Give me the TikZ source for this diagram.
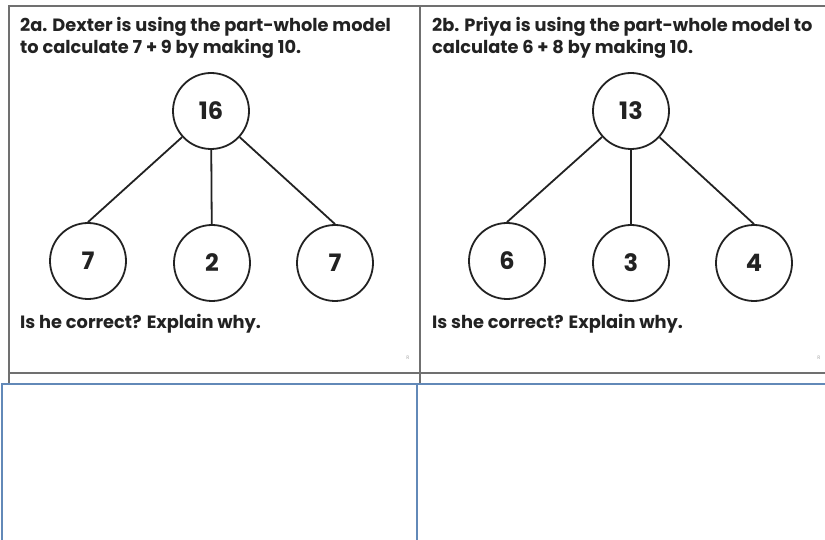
\documentclass[tikz,border=0pt]{standalone}
\usepackage{fontspec}
\setmainfont{Poppins}
\definecolor{boxgray}{RGB}{112,112,112}
\definecolor{answerblue}{RGB}{98,137,184}
\definecolor{ink}{RGB}{34,34,34}
\begin{document}
\begin{tikzpicture}[x=1pt,y=-1pt,
		num/.style={circle,draw=ink,line width=1.8pt,minimum size=76pt,inner sep=0pt,
			font=\fontsize{24}{24}\selectfont\bfseries,text=ink},
		task/.style={anchor=north west,align=left,inner sep=0pt,
			font=\fontsize{17.8}{16.5}\selectfont\bfseries,text=ink},
		tinytag/.style={font=\fontsize{5}{5}\selectfont,text=black!35,inner sep=0pt}]
	\useasboundingbox (0,0) rectangle (825,540);
	% frame of the two questions
	\draw[boxgray,line width=2pt] (8,6)--(825,6) (8,373)--(825,373);
	\draw[boxgray,line width=2pt] (9,6)--(9,384) (420,6)--(420,384);
	% answer boxes
	\draw[answerblue,line width=1.5pt] (2,540)--(2,384)--(825,384) (417,384)--(417,540);
	% 2a
	\node[task] (qa) at (20,17) {2a. Dexter is using the part-whole model\\[1.5pt]to calculate 7 + 9 by making 10.};
	\node[num] (wa) at (211,111) {16};
	\node[num] (la) at (88,261) {7};
	\node[num] (ma) at (212,263) {2};
	\node[num] (ra) at (335,263) {7};
	\begin{scope}[ink,line width=1.8pt]
		\draw (wa)--(la.north);
		\draw (wa)--(ma);
		\draw (wa)--(ra.north);
	\end{scope}
	\node[task] (ea) at (20,314) {Is he correct? Explain why.};
	\node[tinytag] (ka) at (408,358) {R};
	% 2b
	\node[task] (qb) at (432,17) {2b. Priya is using the part-whole model to\\[1.5pt]calculate 6 + 8 by making 10.};
	\node[num] (wb) at (631,111) {13};
	\node[num] (lb) at (507,261) {6};
	\node[num] (mb) at (631,263) {3};
	\node[num] (rb) at (754,263) {4};
	\begin{scope}[ink,line width=1.8pt]
		\draw (wb)--(lb.north);
		\draw (wb)--(mb);
		\draw (wb)--(rb.north);
	\end{scope}
	\node[task] (eb) at (432,314) {Is she correct? Explain why.};
	\node[tinytag] (kb) at (819,358) {R};
\end{tikzpicture}
\end{document}
